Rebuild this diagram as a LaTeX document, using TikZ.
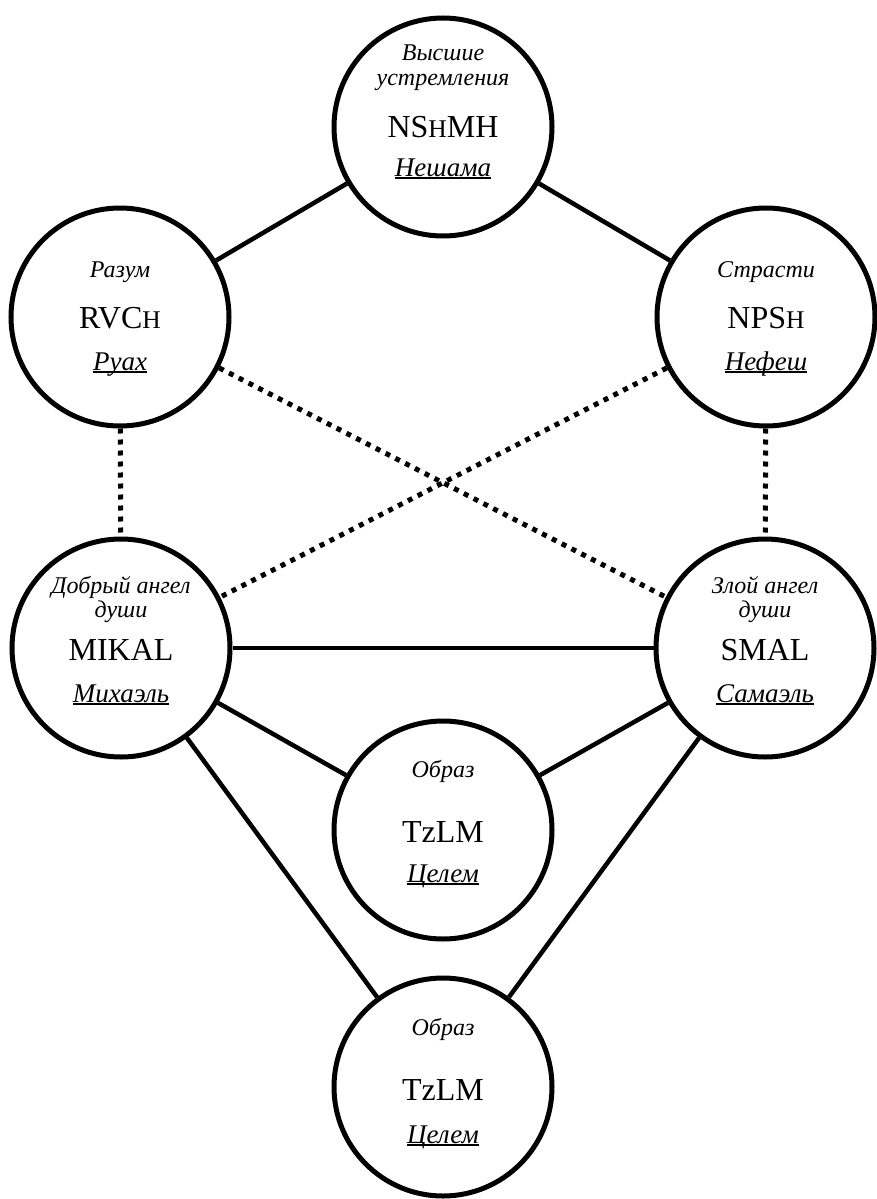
\documentclass[tikz,border=0pt]{standalone}
\usepackage{fontspec}
\setmainfont{Liberation Serif}
\newcommand\ulname[1]{\setbox0\hbox{#1}\rlap{\rule[-3pt]{\wd0}{1.8pt}}\box0}
\newcommand\smH{{\fontsize{25.5pt}{25.5pt}\selectfont H}}
\begin{document}
\begin{tikzpicture}[x=1pt,y=-1pt,
  ring/.style={circle,draw,line width=5pt,minimum size=218pt,inner sep=0pt},
  link/.style={line width=4.5pt},
  dotlink/.style={line width=5pt,dash pattern=on 5pt off 6pt},
  lab/.style={anchor=base,inner sep=0pt,font=\fontsize{24pt}{24pt}\selectfont\itshape},
  code/.style={anchor=base,inner sep=0pt,font=\fontsize{32pt}{32pt}\selectfont},
  heb/.style={anchor=base,inner sep=0pt,font=\fontsize{27pt}{27pt}\selectfont\itshape}]
\useasboundingbox (0,0) rectangle (876,1199);
\node[ring] (A) at (443,127) {};
\node[ring] (B) at (120,317) {};
\node[ring] (C) at (766,317) {};
\node[ring] (D) at (121,648) {};
\node[ring] (E) at (765,648) {};
\node[ring] (F) at (443,830) {};
\node[ring] (G) at (443,1087) {};
\draw[link] (A) -- (B);
\draw[link] (A) -- (C);
\draw[link] (D) -- (E);
\draw[link] (D) -- (F);
\draw[link] (E) -- (F);
\draw[link] (D) -- (G);
\draw[link] (E) -- (G);
\draw[dotlink] (B) -- (D);
\draw[dotlink] (C) -- (E);
\draw[dotlink] (B) -- (E);
\draw[dotlink] (C) -- (D);
% top
\node[lab] (a1) at (443,60) {Высшие};
\node[lab] (a2) at (443,85) {устремления};
\node[code] (a3) at (443,137) {NS\smH MH};
\node[heb] (a4) at (443,176) {\ulname{Нешама}};
% left
\node[lab] (b1) at (120,277) {Разум};
\node[code] (b2) at (120,328) {RVC\smH};
\node[heb] (b3) at (120,370) {\ulname{Руах}};
% right
\node[lab] (c1) at (766,277) {Страсти};
\node[code] (c2) at (766,328) {NPS\smH};
\node[heb] (c3) at (766,370) {\ulname{Нефеш}};
% MIKAL
\node[lab] (d1) at (121,593) {Добрый ангел};
\node[lab] (d2) at (121,617) {души};
\node[code] (d3) at (121,660) {MIKAL};
\node[heb] (d4) at (121,702) {\ulname{Михаэль}};
% SMAL
\node[lab] (e1) at (765,593) {Злой ангел};
\node[lab] (e2) at (765,617) {души};
\node[code] (e3) at (765,660) {SMAL};
\node[heb] (e4) at (765,702) {\ulname{Самаэль}};
% middle
\node[lab] (f1) at (443,777) {Образ};
\node[code] (f2) at (443,842) {TzLM};
\node[heb] (f3) at (443,882) {\ulname{Целем}};
% bottom
\node[lab] (g1) at (443,1035) {Образ};
\node[code] (g2) at (443,1100) {TzLM};
\node[heb] (g3) at (443,1143) {\ulname{Целем}};
\end{tikzpicture}
\end{document}
